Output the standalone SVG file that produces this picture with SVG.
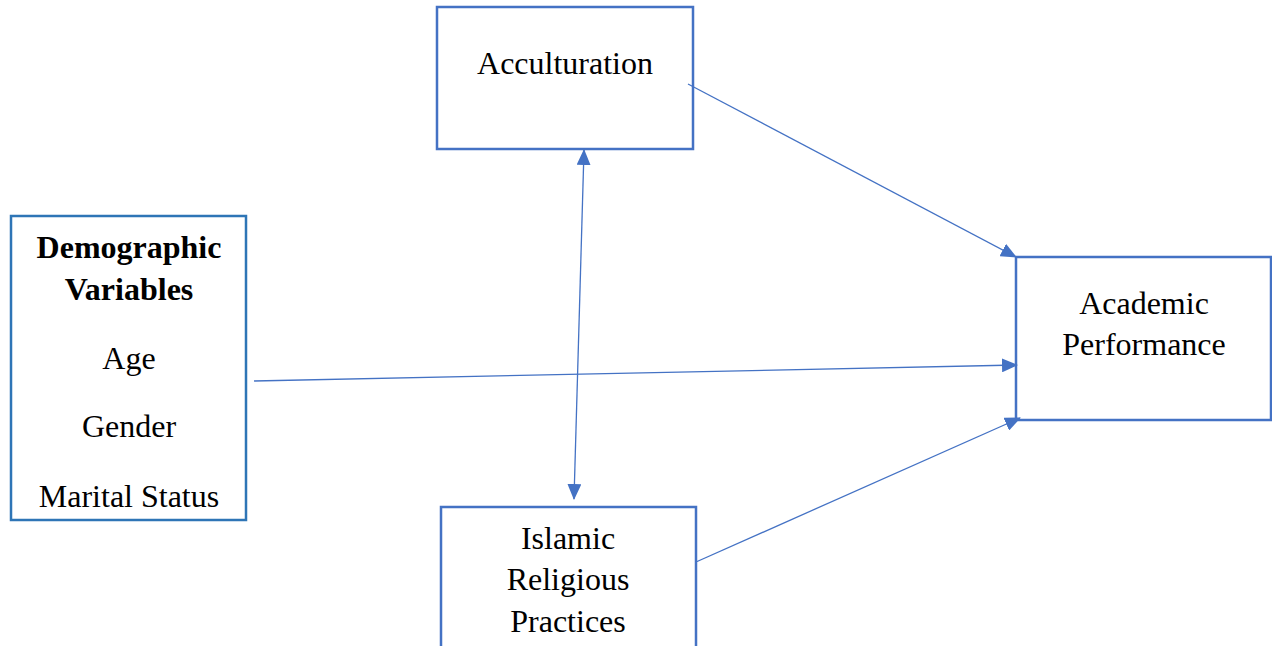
<svg xmlns="http://www.w3.org/2000/svg" width="1272" height="646" viewBox="0 0 1272 646">
<style>
.box{fill:#fff;stroke:#4472C4;stroke-width:2.5}
.box2{fill:#fff;stroke:#2E75B6;stroke-width:2.5}
.t{font-family:"Liberation Serif","Times New Roman",serif;font-size:32px;fill:#000;text-anchor:middle}
.b{font-weight:bold}
.c{stroke:#4472C4;stroke-width:1.3;fill:none}
</style>
<defs>
<marker id="ah" markerUnits="userSpaceOnUse" markerWidth="16" markerHeight="14" refX="15" refY="7" orient="auto-start-reverse" viewBox="0 0 16 14">
<path d="M0,0 L16,7 L0,14 Z" fill="#4472C4"/>
</marker>
</defs>
<rect width="1272" height="646" fill="#fff"/>
<g id="acculturation">
<rect class="box" x="437" y="7" width="256" height="142"/>
<text class="t" x="565" y="74">Acculturation</text>
</g>
<g id="demographic">
<rect class="box2" x="11" y="216" width="235" height="304"/>
<text class="t b" x="129" y="258">Demographic</text>
<text class="t b" x="129" y="300">Variables</text>
<text class="t" x="129" y="369">Age</text>
<text class="t" x="129" y="437">Gender</text>
<text class="t" x="129" y="507">Marital Status</text>
</g>
<g id="academic">
<rect class="box" x="1016" y="257" width="255" height="163"/>
<text class="t" x="1144" y="314">Academic</text>
<text class="t" x="1144" y="355">Performance</text>
</g>
<g id="islamic">
<rect class="box" x="441" y="507" width="255" height="160"/>
<text class="t" x="568" y="549">Islamic</text>
<text class="t" x="568" y="590">Religious</text>
<text class="t" x="568" y="632">Practices</text>
</g>
<g id="connectors">
<line class="c" x1="688" y1="84" x2="1016" y2="257" marker-end="url(#ah)"/>
<line class="c" x1="254" y1="381" x2="1017" y2="365" marker-end="url(#ah)"/>
<line class="c" x1="696" y1="562" x2="1020" y2="418" marker-end="url(#ah)"/>
<line class="c" x1="584" y1="150" x2="574" y2="499" marker-start="url(#ah)" marker-end="url(#ah)"/>
</g>
</svg>
